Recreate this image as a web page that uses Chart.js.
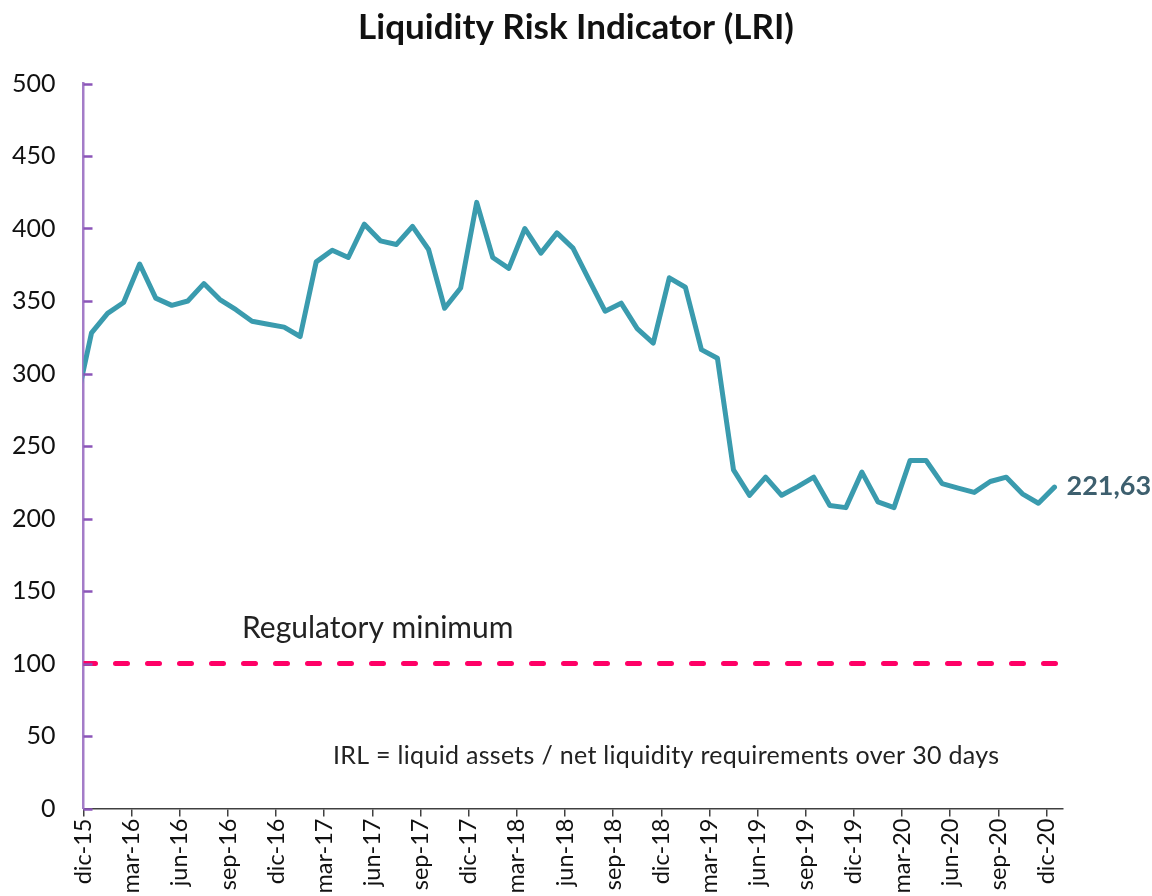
<!DOCTYPE html>
<html>
<head>
<meta charset="utf-8">
<script src="https://cdn.jsdelivr.net/npm/chart.js@4.4.1/dist/chart.umd.min.js"></script>
<style>
  html, body { margin: 0; padding: 0; background: #fff; }
  #wrap { width: 1152px; height: 896px; }
</style>
</head>
<body>
<div id="wrap"><canvas id="lri"></canvas></div>
<script>
const FONT = 'Lato, "Open Sans", sans-serif';

// monthly series, nov-15 .. dic-20 (nov-15 sits before the axis start and is clipped)
const months = [
  'nov-15', 'dic-15',
  'ene-16', 'feb-16', 'mar-16', 'abr-16', 'may-16', 'jun-16', 'jul-16', 'ago-16', 'sep-16', 'oct-16', 'nov-16', 'dic-16',
  'ene-17', 'feb-17', 'mar-17', 'abr-17', 'may-17', 'jun-17', 'jul-17', 'ago-17', 'sep-17', 'oct-17', 'nov-17', 'dic-17',
  'ene-18', 'feb-18', 'mar-18', 'abr-18', 'may-18', 'jun-18', 'jul-18', 'ago-18', 'sep-18', 'oct-18', 'nov-18', 'dic-18',
  'ene-19', 'feb-19', 'mar-19', 'abr-19', 'may-19', 'jun-19', 'jul-19', 'ago-19', 'sep-19', 'oct-19', 'nov-19', 'dic-19',
  'ene-20', 'feb-20', 'mar-20', 'abr-20', 'may-20', 'jun-20', 'jul-20', 'ago-20', 'sep-20', 'oct-20', 'nov-20', 'dic-20'
];
const lri = [
  277, 328,
  341.5, 349, 375.5, 352, 347, 350, 362, 351, 344, 336, 334, 332,
  325.5, 377, 385, 380, 403, 391.5, 389, 401.5, 385.5, 345, 359, 418,
  380, 372.5, 400, 383, 397, 386.5, 364.5, 343, 348.5, 331, 321, 366,
  359.5, 316.5, 310.5, 233.5, 216, 228.5, 216, 222, 228.5, 209, 207.5, 232,
  211.5, 207.5, 240, 240, 224, 221, 218, 225.5, 228.5, 217, 210.5, 221.63
];
const tickLabels = [
  'dic-15', 'mar-16', 'jun-16', 'sep-16', 'dic-16', 'mar-17', 'jun-17', 'sep-17', 'dic-17', 'mar-18', 'jun-18',
  'sep-18', 'dic-18', 'mar-19', 'jun-19', 'sep-19', 'dic-19', 'mar-20', 'jun-20', 'sep-20', 'dic-20'
];
const regMin = 100;
const lastLabel = '221,63';

// month index on the x axis: dic-15 tick at 0, points sit mid-month
const xOf = i => i - 0.5;
const xMax = 61;

const extras = {
  id: 'extras',
  afterDraw(chart) {
    const { ctx, chartArea: area, scales: { x, y } } = chart;
    ctx.save();

    // inward y ticks
    ctx.strokeStyle = '#8b55b8';
    ctx.lineWidth = 2.5;
    for (const t of y.ticks) {
      const py = Math.round(y.getPixelForValue(t.value)) + 0.5;
      ctx.beginPath();
      ctx.moveTo(area.left, py);
      ctx.lineTo(area.left + 9, py);
      ctx.stroke();
    }

    // title
    ctx.fillStyle = '#111';
    ctx.font = `bold 35px ${FONT}`;
    ctx.textAlign = 'center';
    ctx.textBaseline = 'middle';
    ctx.fillText('Liquidity Risk Indicator (LRI)', 576, 28);

    // regulatory label
    ctx.fillStyle = '#222';
    ctx.font = `30px ${FONT}`;
    ctx.textAlign = 'left';
    ctx.textBaseline = 'alphabetic';
    ctx.fillText('Regulatory minimum', 242, 638);

    // note
    ctx.font = `25px ${FONT}`;
    ctx.letterSpacing = '0.3px';
    ctx.fillText('IRL = liquid assets / net liquidity requirements over 30 days', 333, 764);
    ctx.letterSpacing = '0px';

    // last value
    const lx = x.getPixelForValue(xOf(lri.length - 1));
    const ly = y.getPixelForValue(lri[lri.length - 1]);
    ctx.fillStyle = '#3d5f6e';
    ctx.font = `bold 27px ${FONT}`;
    ctx.textBaseline = 'middle';
    ctx.fillText(lastLabel, lx + 12, ly - 1);

    ctx.restore();
  }
};

new Chart(document.getElementById('lri'), {
  type: 'line',
  data: {
    datasets: [
      {
        data: lri.map((v, i) => ({ x: xOf(i), y: v })),
        borderColor: '#3a9bae',
        borderWidth: 5,
        borderJoinStyle: 'round',
        borderCapStyle: 'round',
        pointRadius: 0,
        tension: 0,
        clip: 0,
      },
      {
        data: [{ x: 0, y: regMin }, { x: xMax, y: regMin }],
        borderColor: '#ff0066',
        borderWidth: 5,
        borderDash: [12, 20],
        borderCapStyle: 'round',
        pointRadius: 0,
        clip: 0,
      }
    ]
  },
  options: {
    responsive: true,
    maintainAspectRatio: false,
    animation: false,
    layout: { padding: { top: 83.5, right: 89.5, left: 0, bottom: 0 } },
    plugins: { legend: { display: false }, tooltip: { enabled: false }, title: { display: false } },
    scales: {
      x: {
        type: 'linear',
        min: 0,
        max: xMax,
        afterBuildTicks: s => { s.ticks = tickLabels.map((_, k) => ({ value: k * 3 })); },
        afterFit: s => { s.height = 87.5; },
        ticks: {
          autoSkip: false,
          minRotation: 90,
          maxRotation: 90,
          padding: 2,
          color: '#111',
          font: { family: FONT, size: 23.5 },
          callback: v => tickLabels[v / 3] ?? '',
        },
        grid: { drawOnChartArea: false, drawTicks: true, tickLength: 8, color: '#404040', lineWidth: 1.5 },
        border: { display: true, color: '#404040', width: 1.5 },
      },
      y: {
        min: 0,
        max: 500,
        afterFit: s => { s.width = 83.5; },
        ticks: {
          stepSize: 50,
          padding: 28,
          color: '#111',
          font: { family: FONT, size: 25 },
        },
        grid: { drawOnChartArea: false, drawTicks: false },
        border: { display: true, color: '#a47cc8', width: 2.5 },
      }
    }
  },
  plugins: [extras]
});
</script>
</body>
</html>
